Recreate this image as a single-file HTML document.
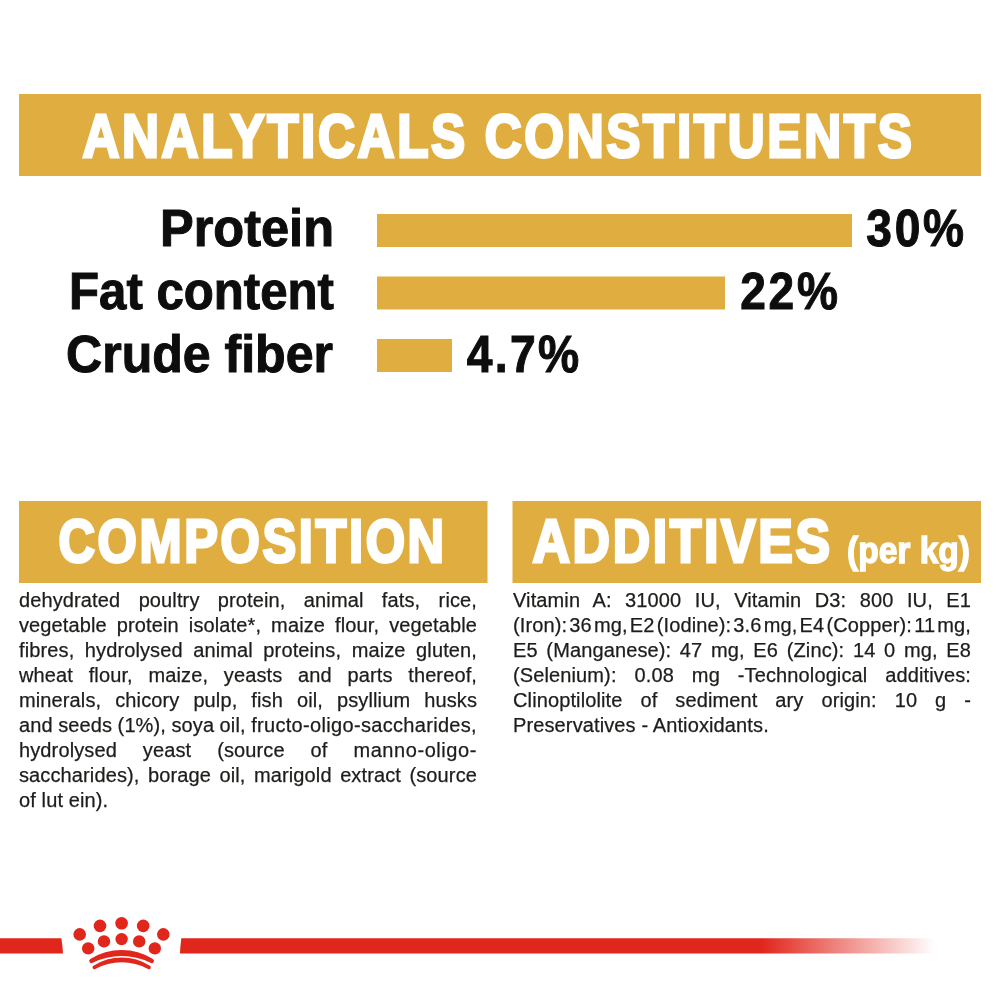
<!DOCTYPE html>
<html lang="en">
<head>
<meta charset="utf-8">
<title>Analyticals constituents</title>
<style>
html,body{margin:0;padding:0;background:#fff;}
body{width:1000px;height:1000px;position:relative;overflow:hidden;font-family:"Liberation Sans",sans-serif;}
svg{position:absolute;left:0;top:0;}
.h{font-family:"Liberation Sans",sans-serif;font-weight:bold;}
.col{position:absolute;color:#1d1d1b;font-size:20px;line-height:25px;transform-origin:0 0;letter-spacing:0.12px;-webkit-text-stroke:0.25px #1d1d1b;}
.col div{white-space:nowrap;text-align:justify;text-align-last:justify;height:25px;}
.col div.last{text-align-last:left;}
</style>
</head>
<body>
<svg width="1000" height="1000" viewBox="0 0 1000 1000">
  <defs>
    <linearGradient id="fade" x1="0" y1="0" x2="1" y2="0">
      <stop offset="0" stop-color="#e1261c"/>
      <stop offset="0.77" stop-color="#e1261c"/>
      <stop offset="1" stop-color="#e1261c" stop-opacity="0"/>
    </linearGradient>
  </defs>
  <!-- banners -->
  <rect x="19" y="94" width="962" height="82" fill="#e0ae40"/>
  <rect x="19" y="501" width="468.5" height="82" fill="#e0ae40"/>
  <rect x="512.5" y="501" width="468.5" height="82" fill="#e0ae40"/>
  <!-- bars -->
  <rect x="377" y="214" width="475" height="33" fill="#e0ae40"/>
  <rect x="377" y="276.5" width="348" height="33" fill="#e0ae40"/>
  <rect x="377" y="339" width="75" height="33" fill="#e0ae40"/>

  <g class="h" fill="#fff" font-size="60.3" stroke="#fff" stroke-width="3" stroke-linejoin="miter">
    <text id="t1" transform="translate(82.4,156.6) scale(0.8492,1)" letter-spacing="3.1">ANALYTICALS CONSTITUENTS</text>
    <text id="t2" transform="translate(58.5,561.6) scale(0.8388,1)" letter-spacing="3.1">COMPOSITION</text>
    <text id="t3" transform="translate(532.5,561.6) scale(0.8591,1)" letter-spacing="3.1">ADDITIVES</text>
  </g>
  <g class="h" fill="#fff" font-size="36" stroke="#fff" stroke-width="1.4" stroke-linejoin="miter">
    <text id="t4" x="847" y="563" textLength="123" lengthAdjust="spacingAndGlyphs">(per kg)</text>
  </g>
  <g class="h" fill="#0d0d0d" font-size="51" stroke="#0d0d0d" stroke-width="1" stroke-linejoin="miter">
    <text id="l1" x="160" y="246.2" textLength="174" lengthAdjust="spacingAndGlyphs">Protein</text>
    <text id="l2" x="69" y="308.6" textLength="265" lengthAdjust="spacingAndGlyphs">Fat content</text>
    <text id="l3" x="66" y="371.6" textLength="267" lengthAdjust="spacingAndGlyphs">Crude fiber</text>
    <text id="v1" transform="translate(866.3,246.3) scale(0.9046,1)" letter-spacing="3">30%</text>
    <text id="v2" transform="translate(740.2,308.6) scale(0.9046,1)" letter-spacing="3">22%</text>
    <text id="v3" transform="translate(466.8,371.6) scale(0.9073,1)" letter-spacing="2.5">4.7%</text>
  </g>

  <!-- red line -->
  <path d="M0 938.2 H61.4 Q62.6 946 63 953.4 H0 Z" fill="#e1261c"/>
  <path d="M181.3 938.2 H935 V953.4 H180 Q180.3 946 181.3 938.2 Z" fill="url(#fade)"/>
  <!-- crown -->
  <g fill="#e1261c">
    <circle cx="79.7" cy="934.4" r="6.3"/>
    <circle cx="100" cy="925.9" r="6.3"/>
    <circle cx="121.6" cy="923.3" r="6.3"/>
    <circle cx="143.2" cy="925.9" r="6.3"/>
    <circle cx="163.3" cy="934.4" r="6.3"/>
    <circle cx="88.2" cy="948.4" r="6.2"/>
    <circle cx="104" cy="941.4" r="6.2"/>
    <circle cx="121.6" cy="939.1" r="6.2"/>
    <circle cx="139.2" cy="941.4" r="6.2"/>
    <circle cx="154.8" cy="948.4" r="6.2"/>
  </g>
  <g fill="#e1261c">
    <path d="M90.3 958.9 A58.9 58.9 0 0 1 152.9 958.9 A2.29 2.29 0 0 1 150.5 962.8 A65.7 65.7 0 0 0 92.7 962.8 A2.29 2.29 0 0 1 90.3 958.9 Z"/>
    <path d="M93.45 965.8 A52.05 52.05 0 0 1 149.85 965.8 A1.81 1.81 0 0 1 148.15 969 A55.8 55.8 0 0 0 95.15 969 A1.81 1.81 0 0 1 93.45 965.8 Z"/>
  </g>
</svg>

<div class="col" id="c1" style="left:19px;top:587.6px;width:458px;">
<div>dehydrated poultry protein, animal fats, rice,</div>
<div>vegetable protein isolate*, maize flour, vegetable</div>
<div>fibres, hydrolysed animal proteins, maize gluten,</div>
<div>wheat flour, maize, yeasts and parts thereof,</div>
<div>minerals, chicory pulp, fish oil, psyllium husks</div>
<div style="word-spacing:-0.35px">and seeds (1%), soya oil, <span style="letter-spacing:0.32px">fructo-oligo-saccharides,</span></div>
<div>hydrolysed yeast (source of <span style="letter-spacing:0.57px">manno-oligo-</span></div>
<div>saccharides), borage oil, marigold extract (source</div>
<div class="last">of lut ein).</div>
</div>

<div class="col" id="c2" style="left:513px;top:587.6px;width:458px;">
<div>Vitamin A: 31000 IU, Vitamin D3: 800 IU, E1</div>
<div style="word-spacing:-3.65px">(Iron): 36 mg, E2 (Iodine): 3.6 mg, E4 (Copper): 11 mg,</div>
<div>E5 (Manganese): 47 mg, E6 (Zinc): 14 0 mg, E8</div>
<div>(Selenium): 0.08 mg -Technological additives:</div>
<div>Clinoptilolite of sediment ary origin: 10 g -</div>
<div class="last">Preservatives - Antioxidants.</div>
</div>
</body>
</html>
